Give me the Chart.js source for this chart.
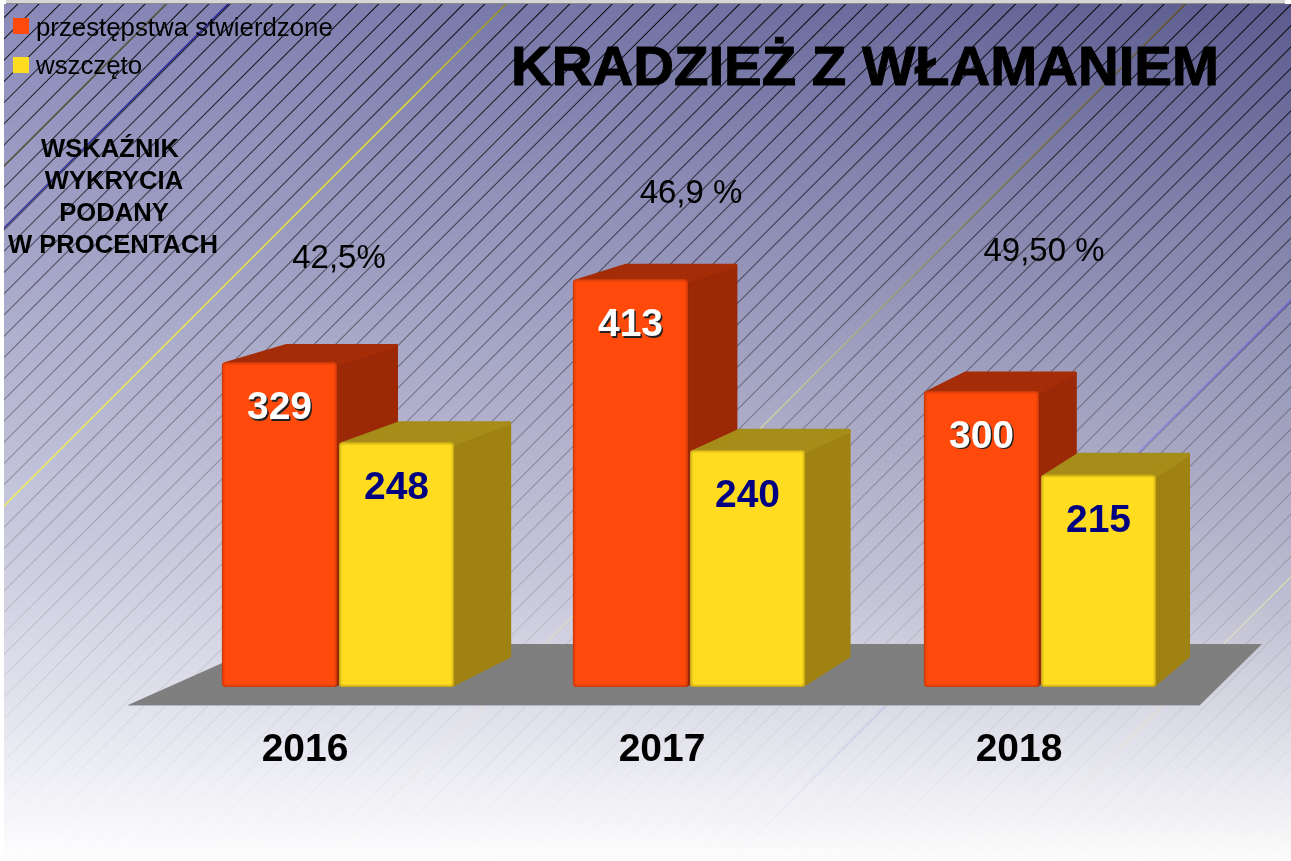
<!DOCTYPE html>
<html><head><meta charset="utf-8">
<style>html,body{margin:0;padding:0;background:#fff}canvas{display:block}</style>
<script src="https://cdn.jsdelivr.net/npm/chart.js@4"></script></head>
<body><canvas id="c" width="1291" height="861"></canvas>
<script>
const categories = [2016, 2017, 2018];
const stwierdzone = [329, 413, 300];
const wszczeto = [248, 240, 215];
const seriesNames = ['przestępstwa stwierdzone', 'wszczęto'];
const wskaznik = ['42,5%', '46,9 %', '49,50 %'];
const chartTitle = 'KRADZIEŻ Z WŁAMANIEM';
const noteLines = ['WSKAŹNIK', 'WYKRYCIA', 'PODANY', 'W PROCENTACH'];

const FONT = '"Liberation Sans", Arial, sans-serif';
const K = 0.033, VX = 2185, VY = -195;
const back = (x, y) => [x + K * (VX - x), y + K * (VY - y)];
const lerp = (a, b, t) => a + (b - a) * t;
const leftStops = [[0,[138,138,186]],[280,[168,168,202]],[580,[208,208,226]],[700,[226,226,238]],[861,[254,254,255]]];
const rightStops = [[0,[90,90,142]],[190,[122,122,166]],[600,[190,190,210]],[861,[252,252,252]]];
function col(stops, y) {
  for (let i = 1; i < stops.length; i++) if (y <= stops[i][0]) {
    const t = (y - stops[i-1][0]) / (stops[i][0] - stops[i-1][0]);
    return stops[i-1][1].map((v, j) => Math.round(lerp(v, stops[i][1][j], t)));
  }
  return stops[stops.length-1][1];
}
const backdrop = {
  id: 'backdrop',
  beforeDraw(chart) {
    const g = chart.ctx, W = chart.width, H = chart.height;
    g.save();
    g.fillStyle = '#fff'; g.fillRect(0, 0, W, H);
    for (let y = 4; y < H; y++) {
      const gr = g.createLinearGradient(4, 0, W, 0);
      gr.addColorStop(0, 'rgb(' + col(leftStops, y) + ')');
      gr.addColorStop(1, 'rgb(' + col(rightStops, y) + ')');
      g.fillStyle = gr; g.fillRect(4, y, W - 4, 1);
    }
    g.beginPath(); g.rect(4, 4, W - 4, H - 4); g.clip();
    const hatch = g.createLinearGradient(0, 0, 0, H);
    hatch.addColorStop(0, 'rgba(0,0,0,.9)');
    hatch.addColorStop(.33, 'rgba(0,0,0,.5)');
    hatch.addColorStop(.58, 'rgba(40,40,40,.27)');
    hatch.addColorStop(.82, 'rgba(90,90,90,.1)');
    hatch.addColorStop(1, 'rgba(120,120,120,0)');
    g.strokeStyle = hatch; g.lineWidth = 1.05;
    const step = 21.23;
    g.beginPath();
    for (let s = 510 - step * 24; s < W + H; s += step) { g.moveTo(s, 0); g.lineTo(0, s); }
    g.stroke();
    const tinted = [
      [170, [[0,'#5c5c40'],[.25,'#55553a']]],
      [232, [[0,'#20209a'],[.3,'#3030a0']]],
      [510, [[0,'#9a9a30'],[.12,'#f0f030'],[.5,'#f4f460'],[1,'#f4f460']]],
      [1189,[[0,'#6a6030'],[.25,'#8a8a5a'],[.5,'#dcdcb0'],[.8,'rgba(238,238,216,.6)'],[1,'rgba(238,238,216,0)']]],
      [1591,[[0,'#6060d0'],[.35,'#6a6ae0'],[.7,'#b0b0e8'],[.9,'rgba(200,200,240,.4)'],[1,'rgba(232,232,244,0)']]],
      [1868,[[.6,'#dcdcb0'],[.8,'rgba(232,232,200,.8)'],[1,'rgba(248,248,240,0)']]]
    ];
    tinted.forEach(([s, stops]) => {
      const lg = g.createLinearGradient(0, 0, 0, H);
      stops.forEach(st => lg.addColorStop(st[0], st[1]));
      g.strokeStyle = lg; g.lineWidth = 1.4;
      g.beginPath(); g.moveTo(s, 0); g.lineTo(0, s); g.stroke();
    });
    g.restore();
    // strip of window chrome along the top edge
    g.fillStyle = '#d6d6d6'; g.fillRect(6, 0, W - 12, 3);
    g.fillStyle = '#8a8a8a'; g.fillRect(6, 3, W - 12, 1);
    // floor
    const b = chart.chartArea.bottom;
    g.fillStyle = '#7f7f7f';
    g.beginPath();
    g.moveTo(128, b + 18); g.lineTo(1200, b + 18); g.lineTo(1262, b - 43); g.lineTo(265, b - 43);
    g.closePath(); g.fill();
    g.strokeStyle = '#b4b4c4'; g.lineWidth = 1;
    g.beginPath(); g.moveTo(128, b + 18.5); g.lineTo(1200, b + 18.5); g.stroke();
  }
};
function poly(g, pts) {
  g.beginPath(); pts.forEach((p, i) => i ? g.lineTo(p[0], p[1]) : g.moveTo(p[0], p[1])); g.closePath();
  g.fill(); g.stroke();
}
const depth = {
  id: 'depth',
  beforeDatasetsDraw(chart) {
    const g = chart.ctx;
    const faces = [['#a42c07', '#9b2806'], ['#a68c18', '#a08212']];
    [0, 1].forEach(d => chart.getDatasetMeta(d).data.forEach(bar => {
      const l = bar.x - bar.width / 2, r = bar.x + bar.width / 2, t = bar.y, b = bar.base;
      g.save(); g.lineJoin = 'round'; g.lineWidth = 4;
      g.fillStyle = g.strokeStyle = faces[d][1];
      poly(g, [[r - 2, t + 2], back(r, t).map((v, i) => v + (i ? 2 : -2)), back(r, b).map((v, i) => v + (i ? -2 : -2)), [r - 2, b - 2]]);
      g.fillStyle = g.strokeStyle = faces[d][0];
      poly(g, [[l + 3, t + 2], back(l, t).map((v, i) => i ? v + 2 : v), back(r, t).map((v, i) => v + (i ? 2 : -2)), [r - 2, t + 2]]);
      g.restore();
    }));
  },
  afterDatasetsDraw(chart) {
    const g = chart.ctx;
    const edge = ['#b83408', '#b09414'];
    [0, 1].forEach(d => chart.getDatasetMeta(d).data.forEach(bar => {
      const x = bar.x - bar.width / 2, y = bar.y, w = bar.width, h = bar.base - bar.y;
      g.save();
      g.beginPath(); g.roundRect(x, y, w, h, 4); g.clip();
      g.strokeStyle = edge[d];
      [[6, .16], [4, .25], [2, .5]].forEach(([lw, al]) => {
        g.globalAlpha = al; g.lineWidth = lw;
        g.beginPath(); g.roundRect(x, y, w, h, 4); g.stroke();
      });
      g.restore();
    }));
    // values inside bars
    g.save();
    g.textAlign = 'center'; g.textBaseline = 'middle';
    g.font = 'bold 39px ' + FONT;
    chart.getDatasetMeta(0).data.forEach((bar, i) => {
      g.fillStyle = '#222'; g.fillText(stwierdzone[i], bar.x + 1.5, bar.y + 47.5);
      g.fillStyle = '#fff'; g.fillText(stwierdzone[i], bar.x, bar.y + 46);
    });
    g.fillStyle = '#000080';
    chart.getDatasetMeta(1).data.forEach((bar, i) => {
      g.fillText(wszczeto[i], bar.x, bar.y + 46);
    });
    g.restore();
  },
  afterDraw(chart) {
    const g = chart.ctx;
    g.save();
    g.fillStyle = '#000'; g.textBaseline = 'middle'; g.textAlign = 'center';
    // title
    g.font = 'bold 56.4px ' + FONT;
    g.strokeStyle = '#000'; g.lineWidth = 1;
    g.fillText(chartTitle, 865, 69); g.strokeText(chartTitle, 865, 69);
    // note
    g.font = 'bold 25.6px ' + FONT;
    const cx = [110, 114, 114, 113];
    noteLines.forEach((t, i) => g.fillText(t, cx[i], 150 + i * 32));
    // detection rates, centred on the category
    g.font = '33px ' + FONT;
    const ys = [259, 194, 252];
    const shift = [1, 2, 4];
    const sc = chart.scales.x;
    wskaznik.forEach((t, i) => g.fillText(t, sc.getPixelForValue(i) + shift[i], ys[i]));
    // legend
    g.textAlign = 'left';
    g.font = '25.8px ' + FONT;
    chart.data.datasets.forEach((ds, i) => {
      const y = 29 + i * 38;
      g.fillStyle = ds.backgroundColor;
      g.fillRect(13, y - 11 + i, 16, 16);
      g.fillStyle = '#000';
      g.fillText(ds.label, 36, y);
    });
    g.restore();
  }
};
new Chart(document.getElementById('c'), {
  type: 'bar',
  data: {
    labels: categories.map(String),
    datasets: [
      { label: seriesNames[0], data: stwierdzone, backgroundColor: '#ff4a0c', borderRadius: 4, borderSkipped: false, categoryPercentage: 0.667, barPercentage: 0.983 },
      { label: seriesNames[1], data: wszczeto, backgroundColor: '#ffdc20', borderRadius: 4, borderSkipped: false, categoryPercentage: 0.667, barPercentage: 0.983 }
    ]
  },
  options: {
    responsive: false, animation: false, devicePixelRatio: 1,
    layout: { padding: { left: 162.5, right: 75.5, top: 94.8, bottom: 0 } },
    plugins: { legend: { display: false }, tooltip: { enabled: false }, title: { display: false } },
    scales: {
      x: { display: false },
      y: { display: false, min: 0, max: 600 },
      years: {
        type: 'linear', axis: 'x', position: 'bottom', min: 2015.6008, max: 2018.5504, offset: false,
        grid: { display: false, drawTicks: false, offset: false }, border: { display: false },
        afterBuildTicks(s) { s.ticks = categories.map(value => ({ value })); },
        afterFit(s) { s.height = 174; },
        ticks: { padding: 40, color: '#000', autoSkip: false, maxRotation: 0,
          font: { family: FONT, size: 39, weight: 'bold' }, callback: v => String(v) }
      }
    }
  },
  plugins: [backdrop, depth]
});
</script></body></html>
